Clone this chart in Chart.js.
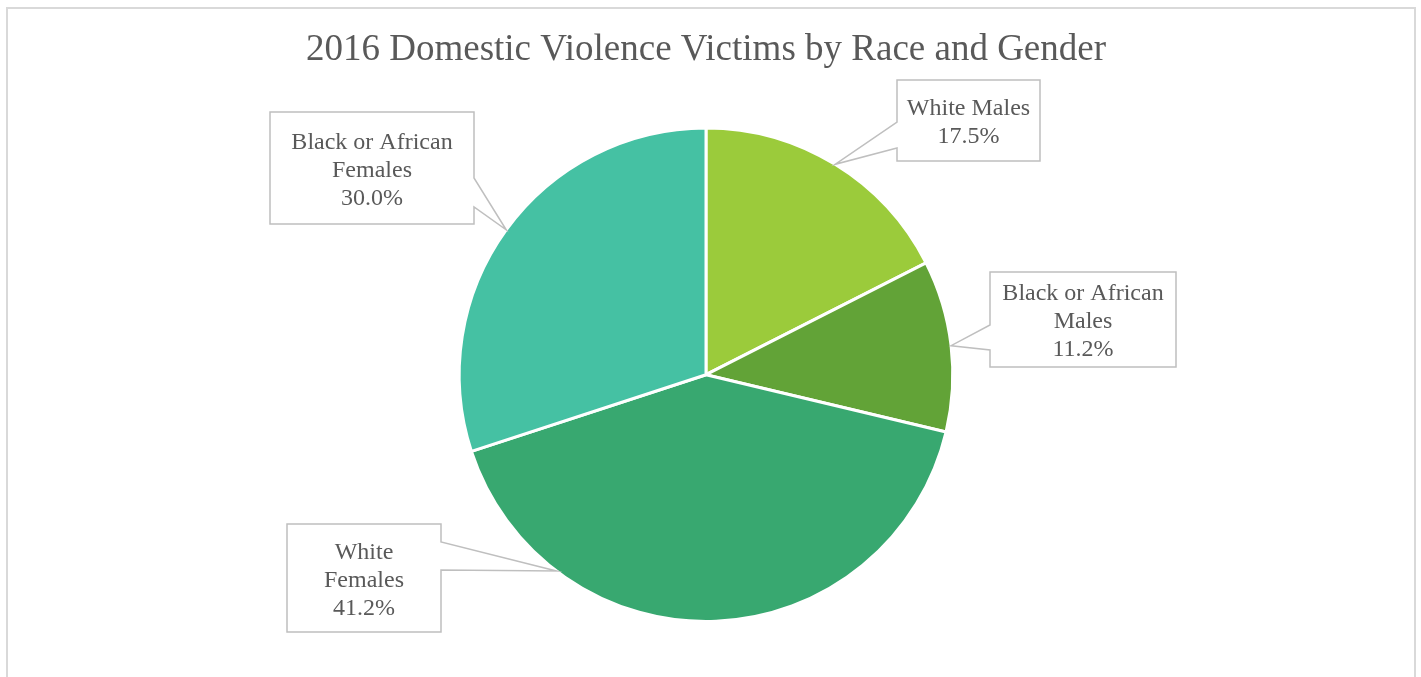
<!DOCTYPE html>
<html>
<head>
<meta charset="utf-8">
<style>
  html, body { margin: 0; padding: 0; background: #ffffff; }
  canvas { display: block; }
</style>
<script src="https://cdn.jsdelivr.net/npm/chart.js@4/dist/chart.umd.min.js"></script>
</head>
<body>
<canvas id="chart-victims" width="1421" height="677"></canvas>
<script>
// Pie data
let labelsVictims = ['White Males', 'Black or African Males', 'White Females', 'Black or African Females'];
let dataVictims = [17.5, 11.2, 41.2, 30.0];
let colorsVictims = ['#9bcb3b', '#62a337', '#38a870', '#45c1a3'];

// callout boxes: [left, top, right, bottom], side the pointer leaves from, pointer base, where on the slice it hits
let callouts = [
    { box: [897, 80, 1040, 161], side: 'left', base: [122, 148], frac: 0.5, wrap: 200 },
    { box: [990, 272, 1176, 367], side: 'left', base: [325, 350], frac: 0.5, wrap: 170 },
    { box: [287, 524, 441, 632], side: 'right', base: [542, 570], frac: 0.767, wrap: 100 },
    { box: [270, 112, 474, 224], side: 'right', base: [178, 207], frac: 0.5, wrap: 170 }
];

const textGrey = '#595959';
const serif = "'Liberation Serif', 'Times New Roman', serif";

function wrapWords(ctx, text, maxW) {
    let words = text.split(' ');
    let lines = [];
    let cur = '';
    words.forEach(w => {
        let test = cur ? cur + ' ' + w : w;
        if (cur && ctx.measureText(test).width > maxW) {
            lines.push(cur);
            cur = w;
        } else {
            cur = test;
        }
    });
    if (cur) lines.push(cur);
    return lines;
}

const framePlugin = {
    id: 'frame',
    beforeDraw(chart) {
        const ctx = chart.ctx;
        ctx.save();
        ctx.strokeStyle = '#d9d9d9';
        ctx.lineWidth = 2;
        ctx.beginPath();
        ctx.moveTo(7, 690);
        ctx.lineTo(7, 8);
        ctx.lineTo(1415, 8);
        ctx.lineTo(1415, 690);
        ctx.stroke();
        ctx.restore();
    }
};

const calloutPlugin = {
    id: 'callouts',
    afterDatasetsDraw(chart) {
        const ctx = chart.ctx;
        const meta = chart.getDatasetMeta(0);
        const total = dataVictims.reduce((a, b) => a + b, 0);
        ctx.save();
        ctx.font = '24px ' + serif;
        meta.data.forEach((arc, i) => {
            const c = callouts[i];
            const p = arc.getProps(['x', 'y', 'startAngle', 'endAngle', 'outerRadius'], true);
            const ang = p.startAngle + (p.endAngle - p.startAngle) * c.frac;
            const tx = p.x + Math.cos(ang) * p.outerRadius;
            const ty = p.y + Math.sin(ang) * p.outerRadius;
            const [l, t, r, b] = c.box;

            ctx.beginPath();
            if (c.side === 'left') {
                ctx.moveTo(l, t);
                ctx.lineTo(r, t);
                ctx.lineTo(r, b);
                ctx.lineTo(l, b);
                ctx.lineTo(l, c.base[1]);
                ctx.lineTo(tx, ty);
                ctx.lineTo(l, c.base[0]);
            } else {
                ctx.moveTo(l, t);
                ctx.lineTo(r, t);
                ctx.lineTo(r, c.base[0]);
                ctx.lineTo(tx, ty);
                ctx.lineTo(r, c.base[1]);
                ctx.lineTo(r, b);
                ctx.lineTo(l, b);
            }
            ctx.closePath();
            ctx.fillStyle = '#ffffff';
            ctx.fill();
            ctx.strokeStyle = '#bfbfbf';
            ctx.lineWidth = 1.5;
            ctx.stroke();

            const pct = (dataVictims[i] / total * 100).toFixed(1) + '%';
            const lines = wrapWords(ctx, labelsVictims[i], c.wrap).concat([pct]);
            const lh = 28;
            const cy = (t + b) / 2 - (lines.length - 1) * lh / 2 + 2.5;
            ctx.fillStyle = textGrey;
            ctx.textAlign = 'center';
            ctx.textBaseline = 'middle';
            lines.forEach((ln, k) => ctx.fillText(ln, (l + r) / 2, cy + k * lh));
        });
        ctx.restore();
    }
};

var chartVictimsCtx = document.getElementById('chart-victims').getContext('2d');

let chartVictims = new Chart(chartVictimsCtx, {
    type: 'pie',
    data: {
        labels: labelsVictims,
        datasets: [{
            data: dataVictims,
            backgroundColor: colorsVictims,
            borderColor: '#ffffff',
            borderWidth: 3
        }]
    },
    options: {
        responsive: false,
        animation: false,
        layout: {
            padding: { top: 0, bottom: 54, left: 4, right: 13 }
        },
        plugins: {
            legend: { display: false },
            tooltip: { enabled: false },
            title: {
                display: true,
                text: '2016 Domestic Violence Victims by Race and Gender',
                color: textGrey,
                font: { family: serif, size: 37, weight: 'normal', lineHeight: 1.2 },
                padding: { top: 28, bottom: 54 }
            }
        }
    },
    plugins: [framePlugin, calloutPlugin]
});
</script>
</body>
</html>
